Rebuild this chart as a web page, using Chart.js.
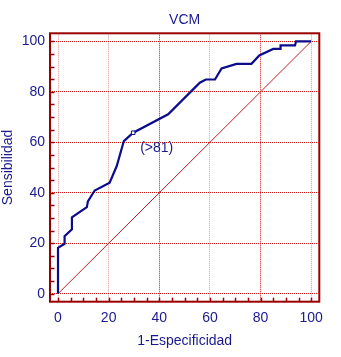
<!DOCTYPE html>
<html>
<head>
<meta charset="utf-8">
<script src="https://cdn.jsdelivr.net/npm/chart.js@4.4.0/dist/chart.umd.min.js"></script>
<style>
  html, body { margin: 0; padding: 0; background: #ffffff; }
  #wrap { width: 341px; height: 357px; }
</style>
</head>
<body>
<div id="wrap"><canvas id="roc" width="341" height="357"></canvas></div>
<script>
// ROC curve: 1-specificity (x) vs sensitivity (y), in percent
const fpr = [0, 0, 2.6, 2.6, 5.5, 5.5, 11.4, 11.8, 14.5, 20.4, 23.2, 26, 29.7, 43.5, 56, 58.4, 62, 64.6, 70.5, 76.4, 79.5, 85, 87.9, 87.9, 93.6, 94, 100];
const tpr = [0, 18.2, 19.8, 22.8, 25.5, 30.3, 34.3, 36.6, 40.9, 44, 50.6, 60.5, 63.8, 71.1, 83.6, 84.9, 84.9, 89.3, 91.1, 91.1, 94.4, 97, 97, 98.4, 98.4, 100, 100];

// chance line
const diagX = [0, 100];
const diagY = [0, 100];

// optimal cut-off point
const cutoffX = [29.7];
const cutoffY = [63.8];
const cutoffText = '(>81)';

const tickValues = [0, 20, 40, 60, 80, 100];
const minorStep = 5;

const NAVY = '#1a1a8e';
const LINE = '#0b0b8c';
const FRAME = '#9a0000';
const GRID = '#c81818';
const FONT = 'Liberation Sans, Arial, sans-serif';

const pts = (xs, ys) => xs.map((x, i) => ({ x: x, y: ys[i] }));

// frame, inward minor ticks and cut-off annotation
const framePlugin = {
  id: 'frame',
  afterDraw(chart) {
    const { ctx, chartArea: a, scales } = chart;
    const xs = scales.x, ys = scales.y;
    ctx.save();
    ctx.strokeStyle = FRAME;
    ctx.lineWidth = 1.5;
    for (let v = 0; v <= 100; v += minorStep) {
      const px = Math.round(xs.getPixelForValue(v)) + 0.5;
      ctx.beginPath();
      ctx.moveTo(px, a.bottom);
      ctx.lineTo(px, a.bottom - 4);
      ctx.stroke();
      const py = Math.round(ys.getPixelForValue(v)) + 0.5;
      ctx.beginPath();
      ctx.moveTo(a.left, py);
      ctx.lineTo(a.left + 4.5, py);
      ctx.stroke();
    }
    ctx.lineWidth = 2;
    ctx.strokeRect(a.left, a.top, a.right - a.left, a.bottom - a.top);

    ctx.fillStyle = NAVY;
    ctx.font = '14px ' + FONT;
    ctx.textAlign = 'left';
    ctx.textBaseline = 'middle';
    ctx.fillText(cutoffText, xs.getPixelForValue(cutoffX[0]) + 7, ys.getPixelForValue(cutoffY[0]) + 15);
    ctx.restore();
  }
};

const lightX = [0, 20, 60, 100];
const axisCommon = {
  type: 'linear',
  min: -3.16,
  max: 103.2,
  afterBuildTicks(scale) { scale.ticks = tickValues.map(v => ({ value: v })); },
  border: { display: false, dash: [1, 1] },
  ticks: { color: NAVY, font: { family: FONT, size: 14 } },
  title: { display: true, color: NAVY, font: { family: FONT, size: 14 } }
};

new Chart(document.getElementById('roc'), {
  type: 'scatter',
  data: {
    datasets: [
      {
        data: pts(cutoffX, cutoffY),
        showLine: false,
        pointStyle: 'rect',
        pointRadius: 2.5,
        borderWidth: 1,
        borderColor: LINE,
        backgroundColor: '#ffffff'
      },
      {
        data: pts(fpr, tpr),
        showLine: true,
        borderColor: LINE,
        borderWidth: 2.2,
        pointRadius: 0,
        tension: 0,
        fill: false
      },
      {
        data: pts(diagX, diagY),
        showLine: true,
        borderColor: '#b42222',
        borderWidth: 1,
        pointRadius: 0,
        fill: false
      }
    ]
  },
  options: {
    responsive: false,
    animation: false,
    devicePixelRatio: 1,
    layout: { padding: { left: 0, right: 21.7, top: 0, bottom: 0 } },
    plugins: {
      legend: { display: false },
      tooltip: { enabled: false },
      title: {
        display: true,
        text: 'VCM',
        fullSize: false,
        color: NAVY,
        font: { family: FONT, size: 14, weight: 'normal' },
        padding: { top: 12, bottom: 4.5 }
      }
    },
    scales: {
      x: Object.assign({}, axisCommon, {
        position: 'bottom',
        afterFit(scale) { scale.height = 55.3; },
        grid: {
          drawTicks: false,
          color: ctx => (ctx.tick && lightX.includes(ctx.tick.value)) ? 'rgba(205,120,120,0.75)' : GRID,
          lineWidth: 1
        },
        ticks: Object.assign({}, axisCommon.ticks, { padding: 8, maxRotation: 0 }),
        title: Object.assign({}, axisCommon.title, { text: '1-Especificidad', padding: { top: 0, bottom: 7 } })
      }),
      y: Object.assign({}, axisCommon, {
        position: 'left',
        afterFit(scale) { scale.width = 50; },
        grid: { drawTicks: false, color: GRID, lineWidth: 1 },
        ticks: Object.assign({}, axisCommon.ticks, { padding: 5 }),
        title: Object.assign({}, axisCommon.title, { text: 'Sensibilidad', padding: { top: 0, bottom: 0 } })
      })
    }
  },
  plugins: [framePlugin]
});
</script>
</body>
</html>
